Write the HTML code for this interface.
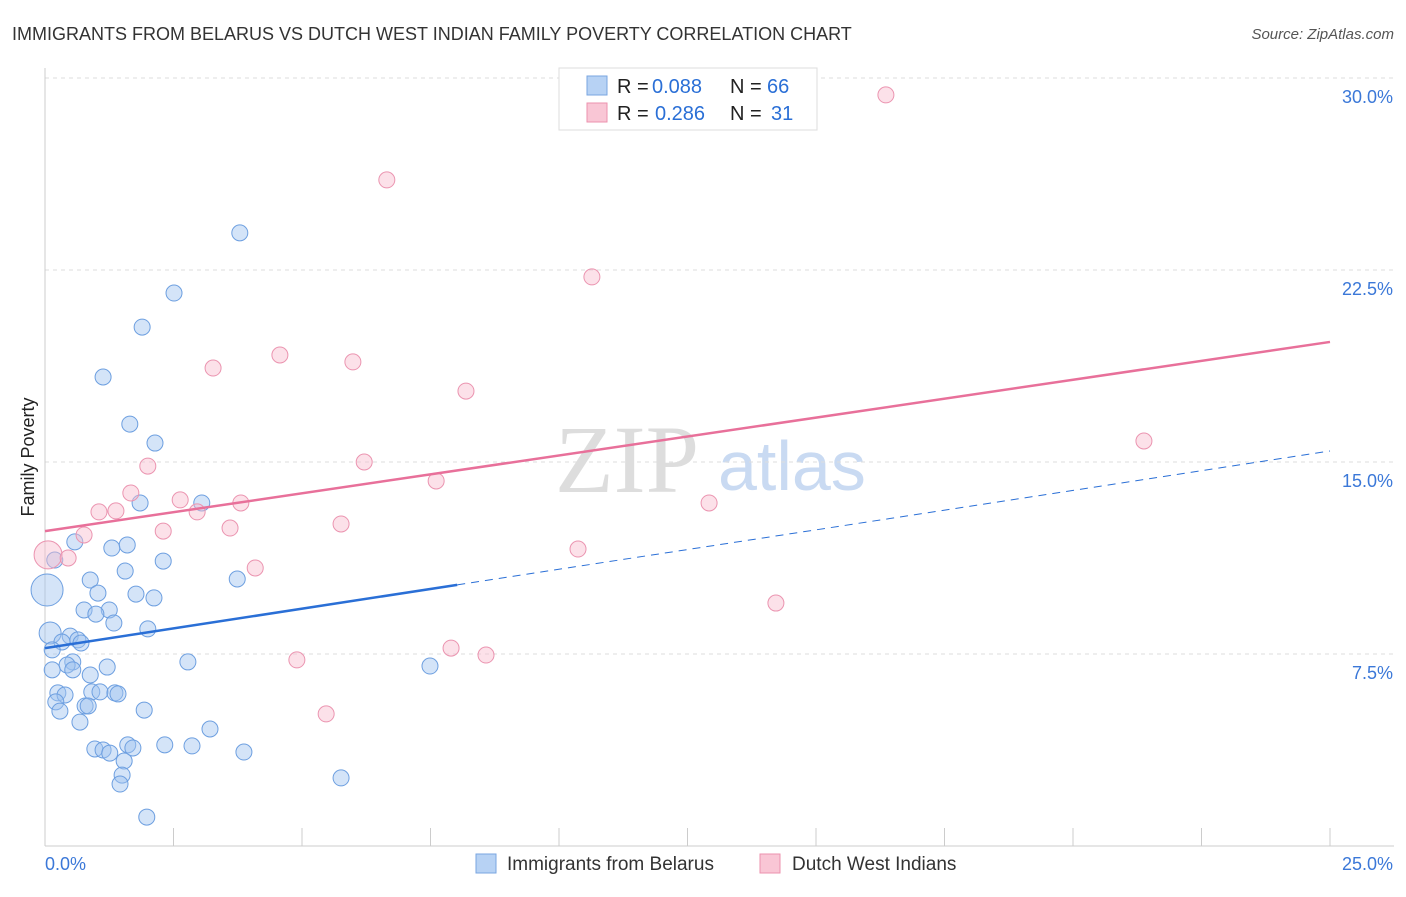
<!DOCTYPE html>
<html><head><meta charset="utf-8"><style>
body{margin:0;background:#fff;font-family:"Liberation Sans",sans-serif;}
</style></head><body>
<svg width="1406" height="892" id="chart" xmlns="http://www.w3.org/2000/svg" font-family="Liberation Sans, sans-serif">
<text x="12" y="40" font-size="18" fill="#333">IMMIGRANTS FROM BELARUS VS DUTCH WEST INDIAN FAMILY POVERTY CORRELATION CHART</text>
<text x="1394" y="39" font-size="15" fill="#555" font-style="italic" text-anchor="end">Source: ZipAtlas.com</text>
<text x="34" y="457" font-size="18" fill="#222" text-anchor="middle" transform="rotate(-90 34 457)">Family Poverty</text>
<text x="555" y="492" font-size="96" fill="#ddd" font-family="Liberation Serif, serif">ZIP</text>
<text x="718" y="490" font-size="70" fill="#c9daf2">atlas</text>
<g id="grid"></g><g id="pts"></g><g id="lines"></g>
<g>
<rect x="559" y="68" width="258" height="62" fill="#fff" stroke="#ddd"/>
<rect x="587" y="76" width="20" height="19" fill="#b7d2f4" stroke="#7aa6e0"/>
<rect x="587" y="103" width="20" height="19" fill="#f9c6d5" stroke="#ec92ae"/>
<text y="93" font-size="20" fill="#222"><tspan x="617">R =</tspan><tspan x="652" fill="#2a6fd6">0.088</tspan><tspan x="730">N =</tspan><tspan x="767" fill="#2a6fd6">66</tspan></text>
<text y="120" font-size="20" fill="#222"><tspan x="617">R =</tspan><tspan x="655" fill="#2a6fd6">0.286</tspan><tspan x="730">N =</tspan><tspan x="771" fill="#2a6fd6">31</tspan></text>
</g>
<g>
<rect x="476" y="854" width="20" height="19" fill="#b7d2f4" stroke="#7aa6e0"/>
<text x="507" y="870" font-size="19" fill="#333">Immigrants from Belarus</text>
<rect x="760" y="854" width="20" height="19" fill="#f9c6d5" stroke="#ec92ae"/>
<text x="792" y="870" font-size="19" fill="#333">Dutch West Indians</text>
</g>
</svg>
<script>
const yTicks=[7.5,15,22.5,30];
const yTickLabels=["7.5%","15.0%","22.5%","30.0%"];
const xTicks=[0,2.5,5,7.5,10,12.5,15,17.5,20,22.5,25];
const blueX=[3.79,2.51,1.89,1.13,1.65,2.14,1.85,3.05,0.58,1.30,1.60,0.19,2.30,1.56,3.74,0.88,1.03,1.77,2.12,0.04,0.76,1.25,0.99,1.34,2.00,0.10,0.49,0.64,0.33,0.70,0.14,0.54,0.43,1.21,2.78,7.49,0.88,0.54,0.14,0.25,0.39,0.91,1.07,1.36,1.42,0.21,0.78,0.84,0.29,1.93,0.68,3.21,2.33,2.86,1.61,0.97,1.13,1.26,1.71,3.87,1.54,1.50,5.76,1.46,1.98];
const blueY=[23.95,21.6,20.27,18.32,16.48,15.74,13.40,13.40,11.88,11.64,11.76,11.17,11.13,10.74,10.43,10.39,9.88,9.84,9.69,10.0,9.22,9.22,9.06,8.71,8.48,8.32,8.20,8.05,7.97,7.93,7.66,7.19,7.07,6.99,7.19,7.03,6.68,6.88,6.88,5.98,5.90,6.02,6.02,5.98,5.94,5.63,5.47,5.47,5.27,5.31,4.84,4.57,3.95,3.91,3.95,3.79,3.75,3.63,3.83,3.67,3.32,2.77,2.66,2.42,1.13];
const pinkX=[16.36,6.65,10.64,4.57,5.99,3.27,8.19,2.00,6.21,21.38,7.61,1.67,2.63,3.81,1.05,1.38,2.96,12.92,5.76,3.60,2.30,0.76,0.06,0.45,4.09,10.37,14.22,4.90,7.90,8.58,5.47];
const pinkY=[29.34,26.02,22.23,19.18,18.91,18.67,17.77,14.84,15.0,15.82,14.26,13.79,13.52,13.40,13.05,13.09,13.05,13.40,12.58,12.42,12.30,12.15,11.37,11.25,10.86,11.60,9.49,7.27,7.73,7.46,5.16];
const blueTrend=[7.73,0.308];
const pinkTrend=[12.30,0.2956];
const X=v=>45+v/25*1285, Y=v=>846-v/7.5*192;
const NS="http://www.w3.org/2000/svg";
function mk(t,a,p){const e=document.createElementNS(NS,t);for(const k in a)e.setAttribute(k,a[k]);p.appendChild(e);return e;}
const g=document.getElementById('grid');
yTicks.forEach((t,i)=>{
 const l=mk('line',{x1:45,x2:1394,y1:Y(t),y2:Y(t),stroke:'#ddd','stroke-dasharray':'4,4'},g);
 
 
 const tx=mk('text',{x:1393,y:Y(t)+25,'font-size':18,fill:'#3b78d8','text-anchor':'end'},g);
 tx.textContent=yTickLabels[i];
 
 
});
mk('line',{x1:45,x2:45,y1:68,y2:846,stroke:'#ccc'},g);
mk('line',{x1:45,x2:1394,y1:846,y2:846,stroke:'#ccc'},g);
xTicks.forEach(t=>{const l=mk('line',{x1:X(t),x2:X(t),y1:828,y2:846,stroke:'#ccc'},g);
 
 });
const a=mk('text',{x:45,y:870,'font-size':18,fill:'#3b78d8'},g);a.textContent='0.0%';


const b=mk('text',{x:1393,y:870,'font-size':18,fill:'#3b78d8','text-anchor':'end'},g);b.textContent='25.0%';


const P=document.getElementById('pts');
blueX.forEach((x,i)=>{const c=mk('circle',{cx:X(x),cy:Y(blueY[i]),r:(x<0.1&&blueY[i]>9.5)?16:(x<0.12&&blueY[i]>8?11:8),fill:'rgba(160,196,240,0.45)',stroke:'#6d9fe0','stroke-width':1},P);
 
 });
pinkX.forEach((x,i)=>{const c=mk('circle',{cx:X(x),cy:Y(pinkY[i]),r:x<0.1?14:8,fill:'rgba(248,188,206,0.45)',stroke:'#eb94b0','stroke-width':1},P);
 
 });
const L=document.getElementById('lines');
const bl=mk('line',{x1:X(0),y1:Y(blueTrend[0]),x2:X(8.02),y2:Y(blueTrend[0]+blueTrend[1]*8.02),stroke:'#2a6fd6','stroke-width':2.5},L);


const bd=mk('line',{x1:X(8.02),y1:Y(blueTrend[0]+blueTrend[1]*8.02),x2:X(25),y2:Y(blueTrend[0]+blueTrend[1]*25),stroke:'#2a6fd6','stroke-width':1,'stroke-dasharray':'8,6'},L);


const pl=mk('line',{x1:X(0),y1:Y(pinkTrend[0]),x2:X(25),y2:Y(pinkTrend[0]+pinkTrend[1]*25),stroke:'#e8709a','stroke-width':2.5},L);


</script>
</body></html>
